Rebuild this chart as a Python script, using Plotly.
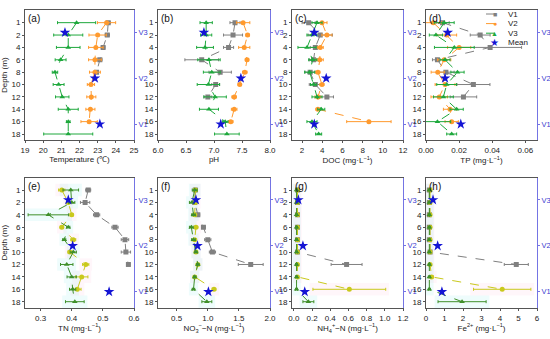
import plotly.graph_objects as go

# ---------------- data ----------------
depth_labels = ["1", "2", "4", "6", "8", "10", "12", "14", "16", "18"]
depth_rows = [0, 1, 2, 3, 4, 5, 6, 7, 8, 9]
mean_rows = [0.8, 4.5, 8.2]
site_labels = ["V3", "V2", "V1"]

# (a) Temperature
temp_v1 = [23.58, 23.53, 23.3, 23.12, 22.94]
temp_v1_err = [0.12, 0.12, 0.1, 0.12, 0.1]
temp_v2 = [23.49, 23.0, 22.9, 22.85, 22.85, 22.63, 22.65, 22.6, 22.53]
temp_v2_err = [0.5, 0.48, 0.4, 0.35, 0.3, 0.2, 0.25, 0.25, 0.45]
temp_v3 = [21.84, 21.38, 21.38, 20.96, 20.65, 20.85, 21.05, 21.38, 21.38, 21.38]
temp_v3_err = [1.05, 0.8, 0.65, 0.3, 0.15, 0.3, 0.37, 0.55, 0.1, 1.35]
temp_mean = [21.2, 22.85, 23.12]

# (b) pH
ph_v1 = [7.375, 7.34, 7.26, 6.78, 7.11, 7.03, 6.89]
ph_v1_err = [0.09, 0.17, 0.09, 0.3, 0.2, 0.07, 0.07]
ph_v2 = [7.52, 7.6, 7.54, 7.59, 7.55, 7.46, 7.36, 7.36, 7.3]
ph_v2_err = [0.12, 0.03, 0.1, 0.03, 0.04, 0.03, 0.04, 0.05, 0.04]
ph_v3 = [6.86, 6.86, 6.84, 6.91, 6.96, 6.9, 7.02, 6.91, 7.2, 7.23]
ph_v3_err = [0.11, 0.1, 0.15, 0.2, 0.15, 0.2, 0.2, 0.17, 0.05, 0.22]
ph_mean = [6.82, 7.48, 7.12]

# (c) DOC
doc_v1 = [2.65, 3.8, 3.31, 3.14, 2.8, 3.31, 4.46]
doc_v1_err = [0.65, 1.2, 0.5, 0.4, 0.5, 0.6, 0.65]
doc_v2 = [3.97, 4.46, 3.8, 3.75, 3.57, 3.97, 3.57, 3.57, 8.62]
doc_v2_err = [0.5, 0.5, 0.3, 0.35, 0.2, 0.2, 0.3, 0.2, 2.2]
doc_v3 = [3.48, 2.98, 2.49, 3.05, 2.75, 3.14, 3.48, 3.9, 2.98, 3.64]
doc_v3_err = [0.5, 0.5, 0.9, 0.4, 0.5, 0.3, 0.5, 0.35, 0.5, 0.3]
doc_mean = [3.21, 4.39, 3.21]

# (d) TP
tp_v1 = [0.010, 0.0327, 0.0387, 0.0069, 0.012, 0.0286, 0.0226]
tp_v1_err = [0.004, 0.006, 0.019, 0.003, 0.005, 0.01, 0.008]
tp_v2 = [0.0044, 0.0125, 0.020, 0.011, 0.0071, 0.0115, 0.008, 0.0145, 0.0155]
tp_v2_err = [0.005, 0.006, 0.007, 0.004, 0.004, 0.006, 0.005, 0.004, 0.004]
tp_v3 = [0.011, 0.006, 0.0171, 0.0115, 0.019, 0.0125, 0.0105, 0.0185, 0.0069, 0.0155]
tp_v3_err = [0.006, 0.004, 0.012, 0.003, 0.004, 0.006, 0.006, 0.004, 0.008, 0.003]
tp_mean = [0.0131, 0.0115, 0.021]

# (e) TN
tn_v1 = [0.453, 0.443, 0.48, 0.539, 0.571, 0.574, 0.582]
tn_v1_err = [0.008, 0.015, 0.01, 0.01, 0.012, 0.015, 0.005]
tn_v2 = [0.368, 0.389, 0.40, 0.368, 0.405, 0.394, 0.445, 0.432, 0.418]
tn_v2_err = [0.01, 0.005, 0.005, 0.005, 0.008, 0.006, 0.01, 0.02, 0.012]
tn_v3 = [0.397, 0.40, 0.325, 0.389, 0.376, 0.405, 0.384, 0.40, 0.403, 0.41]
tn_v3_err = [0.025, 0.01, 0.065, 0.005, 0.005, 0.01, 0.02, 0.015, 0.01, 0.03]
tn_mean = [0.389, 0.403, 0.52]

# (f) NO3--N
no3_v1 = [0.80, 0.79, 0.84, 0.93, 1.0, 1.075, 1.69]
no3_v1_err = [0.03, 0.03, 0.03, 0.03, 0.05, 0.05, 0.2]
no3_v2 = [0.80, 0.80, 0.79, 0.81, 0.79, 0.81, 0.84, 0.79, 1.10]
no3_v2_err = [0.03, 0.03, 0.03, 0.03, 0.03, 0.02, 0.02, 0.02, 0.03]
no3_v3 = [0.79, 0.745, 0.77, 0.735, 0.77, 0.81, 0.84, 0.79, 0.77, 0.985]
no3_v3_err = [0.04, 0.04, 0.03, 0.03, 0.03, 0.02, 0.02, 0.02, 0.02, 0.08]
no3_mean = [0.81, 0.835, 1.01]

# (g) NH4+-N
nh4_v1 = [0.04, 0.04, 0.04, 0.04, 0.04, 0.04, 0.58]
nh4_v1_err = [0.01, 0.01, 0.01, 0.01, 0.01, 0.01, 0.17]
nh4_v2 = [0.04, 0.04, 0.04, 0.04, 0.04, 0.04, 0.04, 0.04, 0.61]
nh4_v2_err = [0.01, 0.01, 0.01, 0.01, 0.01, 0.01, 0.01, 0.01, 0.40]
nh4_v3 = [0.03, 0.03, 0.03, 0.03, 0.03, 0.03, 0.03, 0.03, 0.03, 0.16]
nh4_v3_err = [0.01, 0.01, 0.01, 0.01, 0.01, 0.01, 0.01, 0.01, 0.01, 0.06]
nh4_mean = [0.05, 0.10, 0.12]

# (h) Fe2+
fe_v1 = [0.18, 0.18, 0.18, 0.18, 0.18, 0.22, 4.88]
fe_v1_err = [0.05, 0.05, 0.05, 0.05, 0.05, 0.05, 0.65]
fe_v2 = [0.22, 0.22, 0.22, 0.22, 0.22, 0.22, 0.22, 0.30, 4.12]
fe_v2_err = [0.05, 0.05, 0.05, 0.05, 0.05, 0.05, 0.05, 0.1, 1.55]
fe_v3 = [0.18, 0.18, 0.18, 0.18, 0.18, 0.18, 0.18, 0.18, 0.18, 1.95]
fe_v3_err = [0.05, 0.05, 0.05, 0.05, 0.05, 0.05, 0.05, 0.05, 0.05, 1.3]
fe_mean = [0.38, 0.63, 0.86]

panel_letters = ["(a)", "(b)", "(c)", "(d)", "(e)", "(f)", "(g)", "(h)"]
x_titles = [
    "Temperature (℃)", "pH", "DOC (mg·L<sup>−1</sup>)", "TP (mg·L<sup>−1</sup>)",
    "TN (mg·L<sup>−1</sup>)", "NO<sub>3</sub><sup>−</sup>−N (mg·L<sup>−1</sup>)",
    "NH<sub>4</sub><sup>+</sup>−N (mg·L<sup>−1</sup>)", "Fe<sup>2+</sup> (mg·L<sup>−1</sup>)",
]
x_ranges = [[19, 25], [6.0, 8.0], [1, 12], [0, 0.067], [0.25, 0.6], [0.2, 2.0], [-0.02, 1.2], [0, 6]]
x_ticks = [
    [19, 20, 21, 22, 23, 24, 25], [6.0, 6.5, 7.0, 7.5, 8.0], [2, 4, 6, 8, 10, 12],
    [0.0, 0.02, 0.04, 0.06], [0.3, 0.4, 0.5, 0.6], [0.5, 1.0, 1.5, 2.0],
    [0.0, 0.2, 0.4, 0.6, 0.8, 1.0, 1.2], [0, 1, 2, 3, 4, 5, 6],
]
x_formats = ["d", ".1f", "d", ".2f", ".1f", ".1f", ".1f", "d"]

series = [
    (temp_v1, temp_v1_err, temp_v2, temp_v2_err, temp_v3, temp_v3_err, temp_mean),
    (ph_v1, ph_v1_err, ph_v2, ph_v2_err, ph_v3, ph_v3_err, ph_mean),
    (doc_v1, doc_v1_err, doc_v2, doc_v2_err, doc_v3, doc_v3_err, doc_mean),
    (tp_v1, tp_v1_err, tp_v2, tp_v2_err, tp_v3, tp_v3_err, tp_mean),
    (tn_v1, tn_v1_err, tn_v2, tn_v2_err, tn_v3, tn_v3_err, tn_mean),
    (no3_v1, no3_v1_err, no3_v2, no3_v2_err, no3_v3, no3_v3_err, no3_mean),
    (nh4_v1, nh4_v1_err, nh4_v2, nh4_v2_err, nh4_v3, nh4_v3_err, nh4_mean),
    (fe_v1, fe_v1_err, fe_v2, fe_v2_err, fe_v3, fe_v3_err, fe_mean),
]

# ---------------- styling ----------------
W, H = 550, 339
FONT = "Arial, Liberation Sans, sans-serif"
GRAY = "#808080"
TOP_COLORS = (GRAY, "#ff9a2e", "#1ea83c")
BOT_COLORS = (GRAY, "#c9c91c", "#3f8f2a")
STAR = "#1414d4"
RIGHT_LINE = "#7474e4"
RIGHT_TEXT = "#3a3ad0"
FRAME = "#555555"
FS = 8

col_px = [(25, 134), (158, 270), (292, 403), (426, 537)]
row_px = [(10.3, 140.2), (177.6, 307.9)]
y_range = [9.5, -1.0]

fig = go.Figure()
layout = dict(
    width=W, height=H, margin=dict(l=0, r=0, t=0, b=0, autoexpand=False),
    paper_bgcolor="white", plot_bgcolor="white", showlegend=False,
    font=dict(family=FONT, size=FS, color="#222"),
)
annotations = []
shapes = []

for k in range(8):
    idx = k + 1
    r, c = divmod(k, 4)
    x0, x1 = col_px[c]
    yt, yb = row_px[r]
    xa = "x" if idx == 1 else f"x{idx}"
    ya = "y" if idx == 1 else f"y{idx}"
    yr = f"y{idx + 8}"
    colors = TOP_COLORS if r == 0 else BOT_COLORS
    v1, e1, v2, e2, v3, e3, mean = series[k]

    # faint error-range shading in the lower row
    if r == 1:
        span = x_ranges[k][1] - x_ranges[k][0]
        for vals, errs, fill in ((v2, e2, "rgba(255,160,200,0.09)"), (v3, e3, "rgba(90,225,225,0.10)")):
            for row, v, e in zip(depth_rows, vals, errs):
                half = e + 0.03 * span
                shapes.append(dict(type="rect", xref=xa, yref=ya, layer="below",
                                   x0=v - half, x1=v + half, y0=row - 0.5, y1=row + 0.5,
                                   fillcolor=fill, line=dict(width=0)))

    for vals, errs, col, sym, name in (
        (v1, e1, colors[0], "square", "V1"),
        (v2, e2, colors[1], "circle", "V2"),
        (v3, e3, colors[2], "triangle-up", "V3"),
    ):
        fig.add_trace(go.Scatter(
            x=vals, y=depth_rows[:len(vals)], name=name, mode="lines+markers",
            line=dict(color=col, width=1, dash="dash"),
            marker=dict(symbol=sym, size=5, color=col),
            error_x=dict(type="data", array=errs, color=col, thickness=1, width=1.5),
            xaxis=xa, yaxis=ya,
        ))
    fig.add_trace(go.Scatter(
        x=mean, y=mean_rows, name="Mean", mode="markers",
        marker=dict(symbol="star", size=8, color=STAR, line=dict(width=0)),
        xaxis=xa, yaxis=yr,
    ))

    layout[f"xaxis{idx}"] = dict(
        domain=[x0 / W, x1 / W], anchor=ya, range=x_ranges[k],
        tickvals=x_ticks[k], tickformat=x_formats[k], automargin=False,
        showline=True, linecolor=FRAME, linewidth=1, mirror=True,
        ticks="outside", ticklen=2, tickcolor=FRAME,
        showgrid=False, zeroline=False,
        tickfont=dict(size=FS), title=dict(text=x_titles[k], font=dict(size=FS), standoff=1),
    )
    layout[f"yaxis{idx}"] = dict(
        domain=[1 - yb / H, 1 - yt / H], anchor=xa, range=y_range, automargin=False,
        tickvals=depth_rows, ticktext=depth_labels,
        showline=True, linecolor=FRAME, linewidth=1, mirror=False,
        ticks="outside", ticklen=2, tickcolor=FRAME,
        showgrid=False, zeroline=False, tickfont=dict(size=FS),
        title=dict(text="Depth (m)" if c == 0 else "", font=dict(size=FS), standoff=2),
    )
    layout[f"yaxis{idx + 8}"] = dict(
        overlaying=ya, anchor=xa, side="right", range=y_range, automargin=False,
        tickvals=mean_rows, ticktext=site_labels,
        showline=True, linecolor=RIGHT_LINE, linewidth=1.2,
        ticks="outside", ticklen=2, tickcolor=RIGHT_LINE,
        showgrid=False, zeroline=False,
        tickfont=dict(size=7.5, color=RIGHT_TEXT),
    )
    annotations.append(dict(
        text=panel_letters[k], x=(x0 + 1) / W, y=1 - (yt + 1) / H, xref="paper", yref="paper",
        xanchor="left", yanchor="top", showarrow=False, font=dict(size=10, color="#111"),
    ))

# ---------------- manual legend (inside panel d) ----------------
leg_items = [("V1", GRAY, "■"), ("V2", TOP_COLORS[1], "●"), ("V3", TOP_COLORS[2], "▲"), ("Mean", STAR, "★")]
for i, (lab, col, glyph) in enumerate(leg_items):
    yc = 14 + i * 9.6
    if lab != "Mean":
        shapes.append(dict(type="line", xref="paper", yref="paper",
                           x0=486 / W, x1=503 / W, y0=1 - yc / H, y1=1 - yc / H,
                           line=dict(color=col, width=1, dash="dash")))
    annotations.append(dict(text=glyph, x=494.5 / W, y=1 - yc / H, xref="paper", yref="paper",
                            xanchor="center", yanchor="middle", showarrow=False,
                            font=dict(size=7 if lab != "Mean" else 10, color=col)))
    annotations.append(dict(text=lab, x=506 / W, y=1 - yc / H, xref="paper", yref="paper",
                            xanchor="left", yanchor="middle", showarrow=False,
                            font=dict(size=8, color="#222")))

layout["annotations"] = annotations
layout["shapes"] = shapes
fig.update_layout(**layout)
fig.write_html("out.html", config={"displayModeBar": False},
               post_script="document.body.style.margin='0px';")
